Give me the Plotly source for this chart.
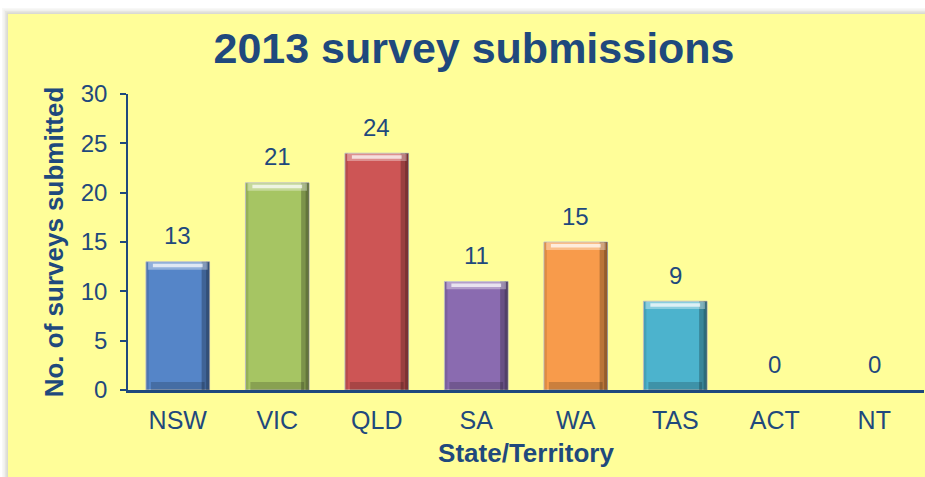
import plotly.graph_objects as go

# ---- data ----
states = ["NSW", "VIC", "QLD", "SA", "WA", "TAS", "ACT", "NT"]
submissions = [13, 21, 24, 11, 15, 9, 0, 0]
bar_colors = ["#5585C8", "#A6C563", "#CD5555", "#8A6BB0", "#F89B4B", "#4CB3CD", "#5585C8", "#5585C8"]
y_ticks = [0, 5, 10, 15, 20, 25, 30]

NAVY = "#1F497D"
FONT = "Liberation Sans, Arial, sans-serif"

W, H = 925, 477
# target plot area in screenshot pixels: x 128..924, y 94..390
L, R, T, B = 128, 1, 94, 477 - 390
PW, PH = W - L - R, H - T - B


def px2x(px):
    return (px - L) / PW


def py2y(py):
    return (H - B - py) / PH


BW = 0.64  # bar width in category units

fig = go.Figure()

# main bars
fig.add_trace(go.Bar(
    x=states, y=submissions, width=BW, offset=-BW / 2,
    marker=dict(color=bar_colors,
                line=dict(color=["#C9C9C9" if v > 0 else "rgba(0,0,0,0)" for v in submissions], width=1)),
    hoverinfo="x+y", showlegend=False,
))
# bevel: darker right side
fig.add_trace(go.Bar(
    x=states, y=submissions, width=0.08, offset=BW / 2 - 0.08,
    marker=dict(color="rgba(0,0,0,0.25)", line=dict(width=0)),
    hoverinfo="skip", showlegend=False,
))
fig.add_trace(go.Bar(
    x=states, y=submissions, width=0.035, offset=BW / 2 - 0.035,
    marker=dict(color="rgba(0,0,0,0.2)", line=dict(width=0)),
    hoverinfo="skip", showlegend=False,
))
# bevel: darker left edge
fig.add_trace(go.Bar(
    x=states, y=submissions, width=0.03, offset=-BW / 2,
    marker=dict(color="rgba(0,0,0,0.10)", line=dict(width=0)),
    hoverinfo="skip", showlegend=False,
))
# bevel: bottom shade
fig.add_trace(go.Bar(
    x=states, y=[0.8 if v > 0 else 0 for v in submissions], width=BW - 0.1, offset=-(BW - 0.1) / 2,
    marker=dict(color="rgba(0,0,0,0.18)", line=dict(width=0)),
    hoverinfo="skip", showlegend=False,
))
# bevel: top highlight
fig.add_trace(go.Bar(
    x=states, y=[0.75 if v > 0 else 0 for v in submissions],
    base=[v - 0.8 for v in submissions], width=BW - 0.04, offset=-(BW - 0.04) / 2,
    marker=dict(color="rgba(255,255,255,0.35)", line=dict(width=0)),
    hoverinfo="skip", showlegend=False,
))
fig.add_trace(go.Bar(
    x=states, y=[0.35 if v > 0 else 0 for v in submissions],
    base=[v - 0.55 for v in submissions], width=BW - 0.14, offset=-(BW - 0.14) / 2,
    marker=dict(color="rgba(255,255,255,0.7)", line=dict(width=0)),
    hoverinfo="skip", showlegend=False,
))

# value labels
for s, v in zip(states, submissions):
    fig.add_annotation(x=s, y=v, xref="x", yref="y", text=str(v), showarrow=False,
                       yanchor="middle", yshift=26,
                       font=dict(family=FONT, size=24, color=NAVY))

shapes = []
# soft shadow of yellow panel
for i, op in enumerate([0.05, 0.06, 0.08, 0.10]):
    d = 6 - i * 1.5
    shapes.append(dict(type="rect", xref="paper", yref="paper", layer="below",
                       x0=px2x(8 - d), x1=px2x(940), y0=py2y(490), y1=py2y(14 - d),
                       fillcolor=f"rgba(120,120,90,{op})", line=dict(width=0)))
shapes.append(dict(type="rect", xref="paper", yref="paper", layer="below",
                   x0=px2x(8), x1=px2x(940), y0=py2y(490), y1=py2y(14),
                   fillcolor="#FFFE99", line=dict(width=0)))

fig.update_layout(
    width=W, height=H,
    margin=dict(l=L, r=R, t=T, b=B, autoexpand=False),
    paper_bgcolor="white",
    plot_bgcolor="rgba(0,0,0,0)",
    barmode="overlay",
    shapes=shapes,
    title=dict(text="<b>2013 survey submissions</b>", x=474 / W, xanchor="center",
               y=1 - 48 / H, yanchor="middle",
               font=dict(family=FONT, size=43, color=NAVY)),
    xaxis=dict(
        categoryorder="array", categoryarray=states,
        showline=True, linecolor=NAVY, linewidth=2.5,
        ticks="outside", ticklen=6, tickcolor="rgba(0,0,0,0)",
        tickfont=dict(family=FONT, size=25, color=NAVY),
        showgrid=False, zeroline=False,
        title=dict(text="<b>State/Territory</b>", standoff=12,
                   font=dict(family=FONT, size=26, color=NAVY)),
    ),
    yaxis=dict(
        range=[0, 30], tickvals=y_ticks,
        showline=True, linecolor=NAVY, linewidth=1.5,
        ticks="outside", ticklen=6, tickwidth=1.5, tickcolor=NAVY,
        tickfont=dict(family=FONT, size=24, color=NAVY),
        ticklabelstandoff=8,
        showgrid=False, zeroline=False,
        title=dict(text="<b>No. of surveys submitted</b>", standoff=10,
                   font=dict(family=FONT, size=26, color=NAVY)),
    ),
    bargap=0.36,
)

fig.write_html(
    "out.html",
    config={"displayModeBar": False},
    post_script="document.body.style.margin='0';document.body.style.overflow='hidden';",
)
